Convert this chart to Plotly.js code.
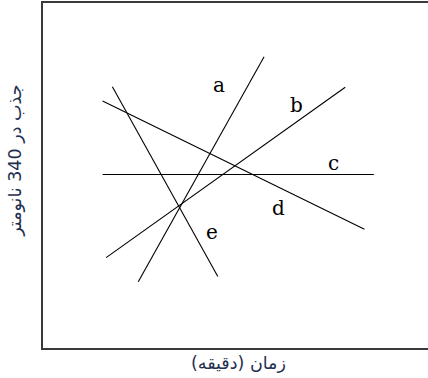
<!DOCTYPE html>
<html>
<head>
<meta charset="utf-8">
<script src="https://cdn.plot.ly/plotly-3.0.1.min.js"></script>
<style>
html,body{margin:0;padding:0;overflow:hidden;background:#fff;width:428px;height:378px;}
#chart{width:436px;height:378px;}
</style>
</head>
<body>
<div id="chart"></div>
<script>
// Series: each line given by its two end points (x in time units, y in absorbance units)
const seriesNames = ["a", "b", "c", "d", "e"];
const xStart = [24.3, 16.1, 15.2, 15.2, 17.7];
const xEnd   = [56.4, 77.1, 84.4, 82.0, 44.6];
const yStart = [19.2, 26.2, 50.3, 71.6, 75.7];
const yEnd   = [84.4, 75.6, 50.3, 34.4, 20.7];
// Label anchor values for each series name
const labelX = [44.9, 64.7, 74.1, 60.0, 43.0];
const labelY = [76.2, 70.4, 53.5, 40.5, 33.5];

const xTitle = "زمان (دقیقه)";
const yTitle = "جذب در 340 نانومتر";

const traces = seriesNames.map((n, i) => ({
  type: "scatter",
  mode: "lines",
  name: n,
  x: [xStart[i], xEnd[i]],
  y: [yStart[i], yEnd[i]],
  line: {color: "#000", width: 1.1},
  hoverinfo: "skip"
}));

const annotations = seriesNames.map((n, i) => ({
  x: labelX[i], y: labelY[i], xref: "x", yref: "y",
  text: n, showarrow: false,
  font: {family: "DejaVu Serif, Liberation Serif, serif", size: 20, color: "#000"},
  xanchor: "center", yanchor: "middle"
}));

annotations.push({
  xref: "paper", yref: "paper", x: 0.499, y: -0.044,
  text: xTitle, showarrow: false, xanchor: "center", yanchor: "middle",
  font: {family: "DejaVu Sans, sans-serif", size: 17.5, color: "#1f2f4f"}
});
annotations.push({
  xref: "paper", yref: "paper", x: -0.072, y: 0.542,
  text: yTitle, showarrow: false, textangle: -90, xanchor: "center", yanchor: "middle",
  font: {family: "DejaVu Sans, sans-serif", size: 17.5, color: "#1f2f4f"}
});

const layout = {
  width: 436, height: 378,
  margin: {l: 43, r: 1, t: 3, b: 30, pad: 0},
  paper_bgcolor: "#fff", plot_bgcolor: "#fff",
  showlegend: false,
  xaxis: {range: [0, 100], showgrid: false, zeroline: false, showticklabels: false, ticks: "",
          showline: true, linecolor: "#3a3a3a", linewidth: 2, mirror: true, fixedrange: true},
  yaxis: {range: [0, 100], showgrid: false, zeroline: false, showticklabels: false, ticks: "",
          showline: true, linecolor: "#3a3a3a", linewidth: 2, mirror: false, fixedrange: true},
  annotations: annotations
};

Plotly.newPlot("chart", traces, layout, {staticPlot: true, displayModeBar: false});
</script>
</body>
</html>
